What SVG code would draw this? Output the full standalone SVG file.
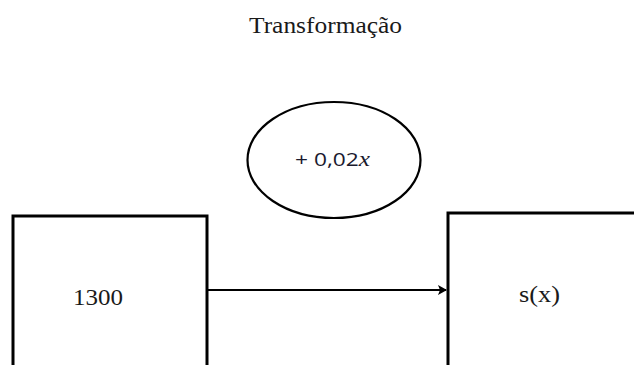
<svg xmlns="http://www.w3.org/2000/svg" width="634" height="365" viewBox="0 0 634 365">
<style>
.box{fill:#fff;stroke:#000;stroke-width:3}
.oval{fill:#fff;stroke:#000;stroke-width:2.2}
.serif{font-family:"Liberation Serif","DejaVu Serif",serif;fill:#1a1a1a}
.sans{font-family:"Open Sans","Liberation Sans",sans-serif;fill:#1a1a2e}
.conn{stroke:#000;stroke-width:2.2;fill:none}
</style>
<defs>
<marker id="arrow" markerWidth="10" markerHeight="10" refX="8" refY="5" orient="auto" markerUnits="userSpaceOnUse">
<path d="M0,0 L9,5 L0,10 L2,5 Z" fill="#000"/>
</marker>
</defs>
<rect width="634" height="365" fill="#fff"/>
<text class="serif" x="249" y="33" font-size="24" textLength="153" lengthAdjust="spacingAndGlyphs">Transformação</text>
<g id="node-transform">
<ellipse class="oval" cx="334" cy="160" rx="86.5" ry="58"/>
<text class="sans" x="295" y="166" font-size="18" textLength="75" lengthAdjust="spacingAndGlyphs">+ 0,02<tspan font-family="Liberation Serif, serif" font-style="italic" font-size="20">x</tspan></text>
</g>
<g id="node-1300">
<rect class="box" x="13" y="216" width="194" height="160"/>
<text class="serif" x="73" y="305" font-size="24" textLength="50" lengthAdjust="spacingAndGlyphs">1300</text>
</g>
<g id="node-sx">
<rect class="box" x="448" y="213" width="200" height="160"/>
<text class="serif" x="519" y="302" font-size="24" textLength="41" lengthAdjust="spacingAndGlyphs">s(x)</text>
</g>
<g id="connectors">
<line class="conn" x1="207" y1="290" x2="446" y2="290" marker-end="url(#arrow)"/>
</g>
</svg>
